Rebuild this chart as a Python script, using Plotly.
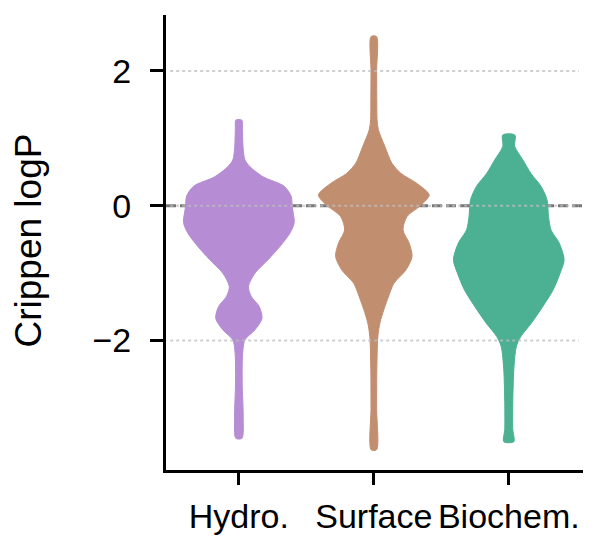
import plotly.graph_objects as go

categories = ["Hydro.", "Surface", "Biochem."]
colors = ["#b68cd4", "#c28e70", "#4bb192"]

# Density profiles: logP level and relative half-width (max = 55)
hydro_y = [1.27, 1.15, 0.9, 0.75, 0.68, 0.58, 0.43, 0.29, 0.14, -0.01, -0.25, -0.40,
           -0.60, -0.80, -1.0, -1.20, -1.35, -1.49, -1.67, -1.84, -1.99, -2.18, -2.63,
           -3.13, -3.45]
hydro_w = [3, 3.5, 4, 5, 6, 11, 24, 45, 52, 53, 55, 51, 41, 29, 16, 9.5, 12.5, 20, 23,
           16, 6, 3.8, 3.3, 4.3, 3]

surface_y = [2.51, 2.0, 1.5, 1.28, 1.13, 0.88, 0.63, 0.48, 0.34, 0.16, 0.01, -0.16,
             -0.36, -0.55, -0.75, -0.95, -1.15, -1.35, -1.54, -1.74, -1.94, -2.43,
             -3.0, -3.62]
surface_w = [2.7, 2.8, 3, 3.2, 4.5, 11, 18, 27, 42, 55, 47, 33, 29, 35, 38, 32, 20,
             14.5, 10, 6, 4, 3, 2.8, 2.7]

biochem_y = [1.05, 0.88, 0.68, 0.48, 0.29, 0.09, -0.16, -0.36, -0.55, -0.80, -1.0,
             -1.25, -1.49, -1.74, -1.94, -2.09, -2.43, -2.92, -3.32, -3.50]
biochem_w = [6, 6, 14, 22, 32, 38, 39.5, 42, 50, 55, 51, 44, 34, 22.5, 12, 7.5, 5, 4,
             4, 5]

y_ticks = [-2, 0, 2]
y_tick_text = ["\u22122", "0", "2"]

profiles = [(hydro_y, hydro_w), (surface_y, surface_w), (biochem_y, biochem_w)]
max_half = 0.41  # half-width of widest violin in category units
FONT = "Liberation Sans, Helvetica, Arial, sans-serif"

fig = go.Figure()
for i, ((ys, ws), col) in enumerate(zip(profiles, colors)):
    peak = max(ws)
    right_x = [i + w / peak * max_half for w in ws]
    left_x = [i - w / peak * max_half for w in ws]
    xs = right_x + left_x[::-1] + [right_x[0]]
    yy = ys + ys[::-1] + [ys[0]]
    fig.add_trace(go.Scatter(
        x=xs, y=yy, mode="lines", fill="toself", fillcolor=col,
        line=dict(color=col, width=1, shape="spline", smoothing=0.8),
        hoverinfo="skip", showlegend=False, name=categories[i]))

# dashed zero line under violins
fig.add_shape(type="line", xref="paper", x0=0, x1=1, yref="y", y0=0, y1=0,
              line=dict(color="#777777", width=3, dash="10px,4px"), layer="below")
# dotted gridlines above
for t in y_ticks:
    fig.add_shape(type="line", xref="paper", x0=0.01, x1=0.99, yref="y", y0=t, y1=t,
                  line=dict(color="rgba(190,190,190,0.75)", width=2, dash="dot"),
                  layer="above")

fig.add_annotation(text="Crippen logP", xref="paper", yref="paper", x=0, y=0.5,
                   xanchor="center", yanchor="middle", xshift=-138, yshift=2,
                   textangle=-90, showarrow=False,
                   font=dict(family=FONT, size=37, color="black"))

fig.update_layout(
    width=616, height=538,
    margin=dict(l=166, r=33, t=15, b=68),
    plot_bgcolor="white", paper_bgcolor="white",
    font=dict(family=FONT, size=34, color="black"),
    xaxis=dict(range=[-0.54, 2.55], tickvals=[0, 1, 2], ticktext=categories,
               showline=True, linecolor="black", linewidth=3, ticks="outside",
               ticklen=12, tickwidth=2.5, tickcolor="black", showgrid=False,
               zeroline=False, tickfont=dict(size=34), ticklabelstandoff=2,
               tickangle=0, automargin=False),
    yaxis=dict(range=[-3.92, 2.83], tickvals=y_ticks, ticktext=y_tick_text,
               showline=True, linecolor="black", linewidth=3, ticks="outside",
               ticklen=13, tickwidth=2.5, tickcolor="black", showgrid=False,
               zeroline=False, tickfont=dict(size=34), ticklabelstandoff=12,
               automargin=False),
)

fig.write_html("out.html")
